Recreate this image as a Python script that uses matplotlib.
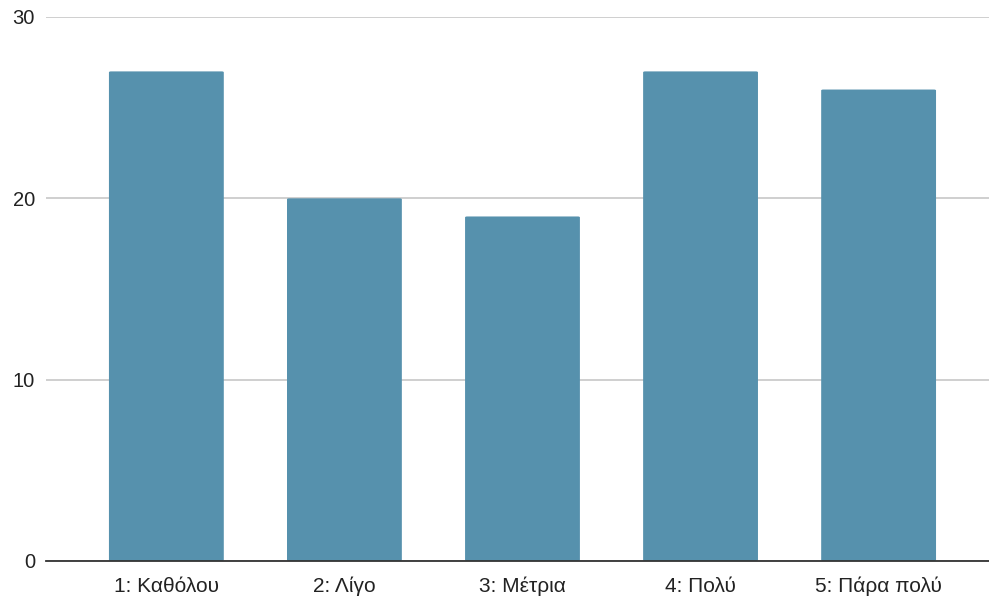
import matplotlib.pyplot as plt
from matplotlib.patches import FancyBboxPatch

categories = ["1: Καθόλου", "2: Λίγο", "3: Μέτρια", "4: Πολύ", "5: Πάρα πολύ"]
counts = [27, 20, 19, 27, 26]
y_ticks = [0, 10, 20, 30]

plt.rcParams['font.family'] = ['Liberation Sans', 'DejaVu Sans']

fig = plt.figure(figsize=(9.89, 5.96), dpi=100)
ax = fig.add_axes([46 / 989, 35 / 596, 1 - 46 / 989, 544 / 596])

bar_color = '#5691ad'
bar_width = 0.645
bars = ax.bar(range(len(categories)), counts, width=bar_width, color=bar_color, zorder=3)

# swap the plain rectangles for ones with slightly rounded corners
for rect in bars:
    x, y = rect.get_x(), rect.get_y()
    w, h = rect.get_width(), rect.get_height()
    rect.set_visible(False)
    patch = FancyBboxPatch((x, y), w, h, boxstyle="round,pad=0,rounding_size=0.012",
                           mutation_aspect=30 / 0.6 * 0.08,
                           facecolor=bar_color, edgecolor='none', zorder=3)
    ax.add_patch(patch)

ax.set_xlim(-0.676, 4.62)
ax.set_ylim(0, 30)
ax.set_yticks(y_ticks)
ax.set_xticks(range(len(categories)))
ax.set_xticklabels(categories, fontsize=15, va='baseline')

ax.grid(axis='y', color='#cccccc', linewidth=1.3, zorder=0)
for side in ['top', 'right', 'left']:
    ax.spines[side].set_visible(False)
ax.spines['bottom'].set_color('#333333')
ax.spines['bottom'].set_linewidth(1.3)
ax.spines['bottom'].set_zorder(4)

ax.tick_params(axis='both', length=0, colors='#222222')
ax.tick_params(axis='y', pad=8, labelsize=14.5)
ax.tick_params(axis='x', pad=22)

fig.savefig('out.png', dpi=100)
